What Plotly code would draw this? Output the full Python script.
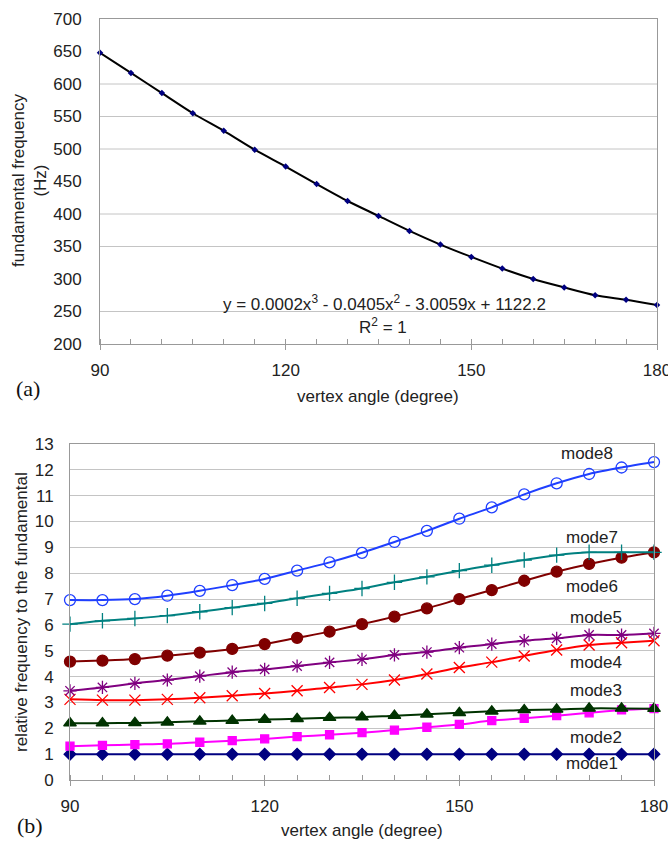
import plotly.graph_objects as go

# ---------------- data ----------------
angles = [90, 95, 100, 105, 110, 115, 120, 125, 130, 135, 140, 145, 150, 155, 160, 165, 170, 175, 180]

fundamental = [648, 617, 586, 555, 528, 499, 473, 446, 420, 397, 374, 353, 334, 316, 300, 287, 275, 268, 260]

mode1 = [1.0] * 19
mode2 = [1.31, 1.34, 1.37, 1.40, 1.46, 1.52, 1.59, 1.68, 1.75, 1.83, 1.93, 2.04, 2.15, 2.30, 2.39, 2.49, 2.60, 2.71, 2.76]
mode3 = [2.20, 2.20, 2.21, 2.23, 2.27, 2.30, 2.34, 2.37, 2.41, 2.43, 2.49, 2.54, 2.60, 2.66, 2.71, 2.73, 2.77, 2.77, 2.76]
mode4 = [3.12, 3.09, 3.09, 3.12, 3.18, 3.26, 3.35, 3.45, 3.58, 3.70, 3.87, 4.10, 4.35, 4.56, 4.80, 5.03, 5.22, 5.31, 5.39]
mode5 = [3.45, 3.58, 3.74, 3.87, 4.02, 4.17, 4.28, 4.41, 4.55, 4.67, 4.84, 4.95, 5.12, 5.26, 5.39, 5.48, 5.61, 5.61, 5.67]
mode6 = [4.58, 4.62, 4.68, 4.81, 4.93, 5.07, 5.26, 5.50, 5.74, 6.03, 6.32, 6.64, 7.00, 7.35, 7.71, 8.06, 8.36, 8.60, 8.81]
mode7 = [6.03, 6.16, 6.25, 6.36, 6.51, 6.67, 6.83, 7.03, 7.22, 7.41, 7.65, 7.86, 8.10, 8.31, 8.51, 8.70, 8.81, 8.81, 8.81]
mode8 = [6.96, 6.96, 7.00, 7.13, 7.32, 7.54, 7.78, 8.10, 8.42, 8.79, 9.21, 9.64, 10.11, 10.55, 11.05, 11.48, 11.84, 12.09, 12.30]

mode_names = ["mode1", "mode2", "mode3", "mode4", "mode5", "mode6", "mode7", "mode8"]
mode_values = [mode1, mode2, mode3, mode4, mode5, mode6, mode7, mode8]
label_x = [170.5, 171, 171, 171, 171, 170.5, 170.5, 169.7]
label_y = [0.62, 1.66, 3.48, 4.53, 6.30, 7.50, 9.40, 12.65]

top_grid = [600, 550, 500, 400, 350, 250]

x_ticks = [90, 120, 150, 180]
top_y_ticks = [200, 250, 300, 350, 400, 450, 500, 550, 600, 650, 700]
bottom_y_ticks = list(range(0, 14))

# ---------------- styles ----------------
colors = ["#000080", "#FF00FF", "#003300", "#FF0000", "#800080", "#800000", "#008080", "#1F3FFF"]
symbols = ["diamond", "square", "triangle-up", "x-thin-open", "asterisk-open", "circle", "cross-thin-open", "circle-open"]
sizes = [9, 8, 11, 11, 11, 11, 11, 11]

FONT = "Liberation Sans, Arial, sans-serif"
AXCOL = "#999999"
GRIDCOL = "#c4c4c4"

fig = go.Figure()

fig.add_trace(go.Scatter(
    x=angles, y=fundamental, mode="lines+markers",
    line=dict(color="black", width=2, shape="spline", smoothing=0.8),
    marker=dict(symbol="diamond", size=5, color="#000080"),
    xaxis="x", yaxis="y", cliponaxis=False, showlegend=False))

for name, vals, col, sym, sz in zip(mode_names, mode_values, colors, symbols, sizes):
    fig.add_trace(go.Scatter(
        x=angles, y=vals, mode="lines+markers", name=name,
        line=dict(color=col, width=2, shape="spline", smoothing=0.8),
        marker=dict(symbol=sym, size=sz, color=col, line=dict(color=col, width=1.3)),
        xaxis="x2", yaxis="y2", cliponaxis=False, showlegend=False))

W, H = 668, 841
def px(xp): return xp / W
def py(yp): return 1 - yp / H

xcommon = dict(
    range=[90, 180], tickvals=x_ticks, ticks="outside", ticklen=5, tickcolor=AXCOL,
    showline=True, linecolor=AXCOL, linewidth=1, mirror=True, showgrid=False, zeroline=False,
    minor=dict(ticks="inside", dtick=5, tick0=90, ticklen=5, tickcolor=AXCOL, showgrid=False),
    tickfont=dict(family=FONT, size=17, color="#222"), ticklabelstandoff=6,
    ticklabeloverflow="allow", automargin=False)

ycommon = dict(showline=True, linecolor=AXCOL, mirror=True, zeroline=False, ticks="",
               tickfont=dict(family=FONT, size=17, color="#222"),
               ticklabeloverflow="allow", automargin=False)

fig.update_layout(
    width=W, height=H, margin=dict(l=0, r=0, t=0, b=0, pad=0, autoexpand=False),
    paper_bgcolor="white", plot_bgcolor="white",
    xaxis=dict(domain=[px(100), px(657)], anchor="y", **xcommon),
    yaxis=dict(domain=[py(344), py(19)], anchor="x", range=[200, 700], tickvals=top_y_ticks,
               showgrid=False, ticklabelstandoff=14, **ycommon),
    xaxis2=dict(domain=[px(70), px(654)], anchor="y2", **xcommon),
    yaxis2=dict(domain=[py(780), py(444)], anchor="x2", range=[0, 13], tickvals=bottom_y_ticks,
                showgrid=True, gridcolor=GRIDCOL, gridwidth=1, ticklabelstandoff=12, **ycommon),
)

for g in top_grid:
    fig.add_shape(type="line", xref="x", yref="y", x0=90, x1=180, y0=g, y1=g,
                  line=dict(color=GRIDCOL, width=1), layer="below")

base = dict(showarrow=False, xanchor="center", yanchor="middle")
ann = []
# top chart texts
ann.append(dict(text="y = 0.0002x<sup>3</sup> - 0.0405x<sup>2</sup> - 3.0059x + 1122.2",
                xref="paper", yref="paper", x=px(384), y=py(303),
                font=dict(family=FONT, size=17, color="#222"), **base))
ann.append(dict(text="R<sup>2</sup> = 1", xref="paper", yref="paper", x=px(383), y=py(326),
                font=dict(family=FONT, size=17, color="#222"), **base))
ann.append(dict(text="fundamental frequency<br>(Hz)", xref="paper", yref="paper",
                x=px(29), y=py(181), textangle=-90,
                font=dict(family=FONT, size=17, color="#222"), **base))
ann.append(dict(text="vertex angle (degree)", xref="paper", yref="paper", x=px(378), y=py(396),
                font=dict(family=FONT, size=17, color="#222"), **base))
ann.append(dict(text="(a)", xref="paper", yref="paper", x=px(28), y=py(388),
                font=dict(family="Liberation Serif, Times New Roman, serif", size=22, color="#111"), **base))
# bottom chart texts
ann.append(dict(text="relative frequency to the fundamental", xref="paper", yref="paper",
                x=px(21), y=py(612), textangle=-90,
                font=dict(family=FONT, size=17, color="#222"), **base))
ann.append(dict(text="vertex angle (degree)", xref="paper", yref="paper", x=px(362), y=py(830),
                font=dict(family=FONT, size=17, color="#222"), **base))
ann.append(dict(text="(b)", xref="paper", yref="paper", x=px(30), y=py(825),
                font=dict(family="Liberation Serif, Times New Roman, serif", size=22, color="#111"), **base))
for name, lx, ly in zip(mode_names, label_x, label_y):
    ann.append(dict(text=name, xref="x2", yref="y2", x=lx, y=ly,
                    font=dict(family=FONT, size=17, color="#222"), **base))

fig.update_layout(annotations=ann)

fig.write_html("out.html")
